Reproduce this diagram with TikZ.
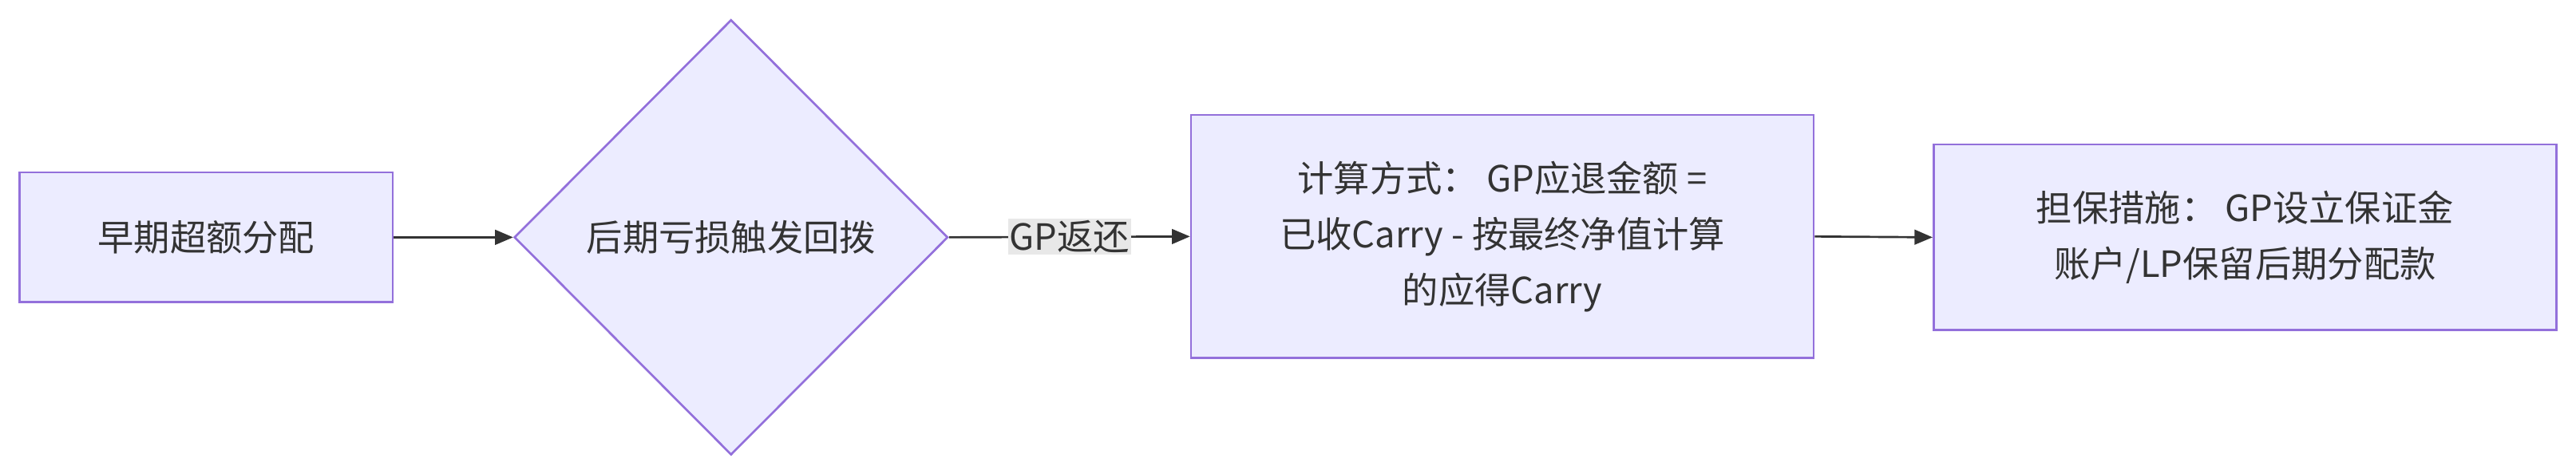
\documentclass[tikz,border=0pt]{standalone}
\usepackage{fontspec}
\setmainfont{Noto Sans CJK SC}
\usetikzlibrary{arrows.meta,shapes.geometric}
\definecolor{nfill}{HTML}{ECECFF}
\definecolor{nline}{HTML}{9370DB}
\definecolor{txt}{HTML}{333333}
\definecolor{lbl}{HTML}{E8E8E8}
\begin{document}
\begin{tikzpicture}[x=1pt,y=-1pt,
  box/.style={draw=nline,fill=nfill,line width=1.3pt,text=txt,align=center,font=\fontsize{22}{34}\selectfont,inner sep=0pt},
  conn/.style={draw=txt,line width=1.3pt,-{Triangle[length=11pt,width=9pt]}}]
\useasboundingbox (0,0) rectangle (1568,288.6);
\node[box,minimum width=227pt,minimum height=79pt] (a) at (125.5,144.5) {早期超额分配};
\node[box,diamond,minimum width=264pt,minimum height=265pt] (b) at (445,144.5) {};
\node[text=txt,font=\fontsize{22}{34}\selectfont] at (445,144.5) {后期亏损触发回拨};
\node[box,minimum width=379pt,minimum height=148pt] (c) at (914.5,144) {计算方式： GP应退金额 =\\已收Carry - 按最终净值计算\\的应得Carry};
\node[box,minimum width=379pt,minimum height=113pt] (d) at (1366.5,144.5) {担保措施： GP设立保证金\\账户/LP保留后期分配款};
\draw[conn] (a.east) -- (b.west);
\draw[conn] (b.east) -- node[fill=lbl,text=txt,font=\fontsize{22}{26}\selectfont,inner sep=1pt] {GP返还} (c.west);
\draw[conn] (c.east) -- (d.west);
\end{tikzpicture}
\end{document}
